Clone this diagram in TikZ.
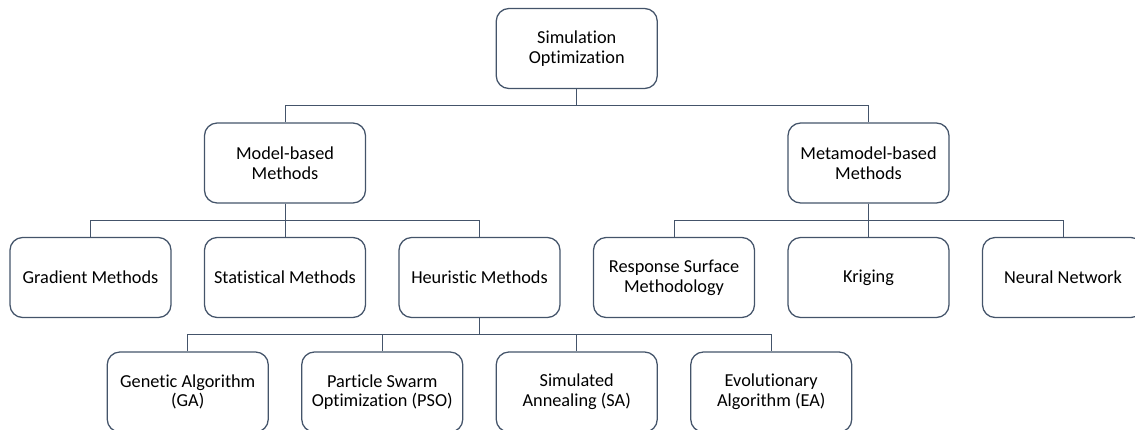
\documentclass[tikz,border=0pt]{standalone}
\usepackage{fontspec}
\setmainfont{Carlito}[Ligatures=NoCommon]
\usetikzlibrary{calc}
\definecolor{slate}{RGB}{68,84,106}
\tikzset{
  box/.style={draw=slate,line width=0.9pt,rounded corners=9pt,align=center,minimum width=40.25mm,minimum height=20mm,inner sep=2pt,font=\fontsize{13}{14}\selectfont},
  link/.style={draw=slate,line width=0.7pt,to path={|- ($(\tikztostart)!.5!(\tikztotarget)$) -| (\tikztotarget)}}
}
\begin{document}
\begin{tikzpicture}[x=48.625mm,y=-28.625mm]
\useasboundingbox (-22.625mm,12.125mm) rectangle (261.125mm,-95.125mm);
% root
\node[box] (so) at (2.5,0) {Simulation\\Optimization};
% two families
\node[box] (mb) at (1,1) {Model-based\\Methods};
\node[box] (mm) at (4,1) {Metamodel-based\\Methods};
% methods
\node[box] (grad) at (0,2) {Gradient Methods};
\node[box] (stat) at (1,2) {Statistical Methods};
\node[box] (heur) at (2,2) {Heuristic Methods};
\node[box] (rsm) at (3,2) {Response Surface\\Methodology};
\node[box] (krig) at (4,2) {Kriging};
\node[box] (nn) at (5,2) {Neural Network};
% heuristics
\node[box] (ga) at (0.5,3) {Genetic Algorithm\\(GA)};
\node[box] (pso) at (1.5,3) {Particle Swarm\\Optimization (PSO)};
\node[box] (sa) at (2.5,3) {Simulated\\Annealing (SA)};
\node[box] (ea) at (3.5,3) {Evolutionary\\Algorithm (EA)};
\draw[link] (so.south) to (mb.north);
\draw[link] (so.south) to (mm.north);
\draw[link] (mb.south) to (grad.north);
\draw[link] (mb.south) to (stat.north);
\draw[link] (mb.south) to (heur.north);
\draw[link] (mm.south) to (rsm.north);
\draw[link] (mm.south) to (krig.north);
\draw[link] (mm.south) to (nn.north);
\draw[link] (heur.south) to (ga.north);
\draw[link] (heur.south) to (pso.north);
\draw[link] (heur.south) to (sa.north);
\draw[link] (heur.south) to (ea.north);
\end{tikzpicture}
\end{document}
